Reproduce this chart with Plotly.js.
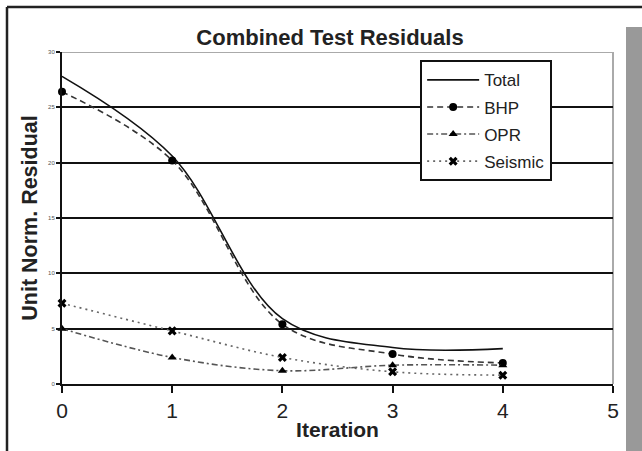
<!DOCTYPE html>
<html>
<head>
<meta charset="utf-8">
<script src="https://cdn.plot.ly/plotly-3.0.1.min.js"></script>
<style>html,body{margin:0;padding:0;background:#fff;}#chart{width:642px;height:451px;}</style>
</head>
<body>
<div id="chart"></div>
<script>
const iterations = [0, 1, 2, 3, 4];
const totalResidual = [27.8, 20.6, 5.9, 3.3, 3.2];
const bhpResidual = [26.4, 20.2, 5.4, 2.7, 1.9];
const oprResidual = [5.0, 2.4, 1.2, 1.7, 1.7];
const seismicResidual = [7.3, 4.8, 2.4, 1.1, 0.8];
const xTicks = [0, 1, 2, 3, 4, 5];
const yTicks = [0, 5, 10, 15, 20, 25, 30];

const FONT = 'Liberation Sans, Arial, sans-serif';

const traces = [
  {x: iterations, y: totalResidual, name: 'Total', mode: 'lines', legendgroup: 'a',
   line: {color: '#111', width: 1.6, shape: 'spline', smoothing: 1}},
  {x: iterations, y: bhpResidual, name: 'BHP', mode: 'lines+markers', legendgroup: 'b',
   line: {color: '#333', width: 1.6, dash: '6px,4px', shape: 'spline', smoothing: 1},
   marker: {symbol: 'circle', size: 8, color: '#000'}, cliponaxis: false},
  {x: iterations, y: oprResidual, name: 'OPR', mode: 'lines+markers', legendgroup: 'c',
   line: {color: '#555', width: 1.6, dash: '6px,3px,2px,3px', shape: 'spline', smoothing: 1},
   marker: {symbol: 'triangle-up', size: 8, color: '#000'}, cliponaxis: false},
  {x: iterations, y: seismicResidual, name: 'Seismic', mode: 'lines+markers', legendgroup: 'd',
   line: {color: '#666', width: 1.6, dash: '2px,4px', shape: 'spline', smoothing: 1},
   marker: {symbol: 'x', size: 8, color: '#000'}, cliponaxis: false}
];

const layout = {
  width: 642, height: 451,
  margin: {l: 62, r: 29, t: 52, b: 67},
  paper_bgcolor: '#fff', plot_bgcolor: '#fff',
  font: {family: FONT, color: '#111'},
  title: {text: '<b>Combined Test Residuals</b>', font: {size: 22, family: FONT, color: '#222'},
          x: 0.514, xref: 'container', xanchor: 'center', y: 0.918, yref: 'container', yanchor: 'middle'},
  xaxis: {range: [0, 5], tickvals: xTicks, ticks: 'outside', ticklen: 7, tickwidth: 2, tickcolor: '#111',
          showline: true, linecolor: '#111', linewidth: 2, showgrid: false, zeroline: false,
          tickfont: {size: 21, family: FONT, color: '#222'},
          title: {text: '<b>Iteration</b>', font: {size: 21, family: FONT, color: '#222'}, standoff: 1}},
  yaxis: {range: [0, 30], tickvals: yTicks, ticks: 'outside', ticklen: 4, tickwidth: 2, tickcolor: '#111',
          showline: true, linecolor: '#111', linewidth: 2, showgrid: true, gridcolor: '#111', gridwidth: 2,
          zeroline: false, tickfont: {size: 6, family: FONT, color: '#555'},
          title: {text: '<b>Unit Norm. Residual</b>', font: {size: 21.5, family: FONT, color: '#222'}, standoff: 5}},
  legend: {x: 0.65, y: 0.975, xanchor: 'left', yanchor: 'top', bgcolor: '#fff',
           bordercolor: '#111', borderwidth: 2, font: {size: 17, family: FONT, color: '#222'},
           tracegroupgap: 2, itemwidth: 52},
  shapes: [
    {type: 'line', xref: 'paper', yref: 'y', x0: 0, x1: 1, y0: 30, y1: 30, line: {color: '#aaa', width: 2}, layer: 'above'},
    {type: 'line', xref: 'paper', yref: 'paper', x0: 1, x1: 1, y0: 0, y1: 1, line: {color: '#aaa', width: 2}, layer: 'below'},
    {type: 'line', xref: 'paper', yref: 'paper', x0: -55/551, x1: 580/551, y0: 377/332, y1: 377/332, line: {color: '#222', width: 2.5}},
    {type: 'line', xref: 'paper', yref: 'paper', x0: -55/551, x1: -55/551, y0: 377/332, y1: -67/332, line: {color: '#222', width: 2.5}},
    {type: 'rect', xref: 'paper', yref: 'paper', x0: 564/551, x1: 580/551, y0: 357/332, y1: -67/332, fillcolor: '#999', line: {width: 0}}
  ]
};

Plotly.newPlot('chart', traces, layout, {displayModeBar: false, staticPlot: true});
</script>
</body>
</html>
